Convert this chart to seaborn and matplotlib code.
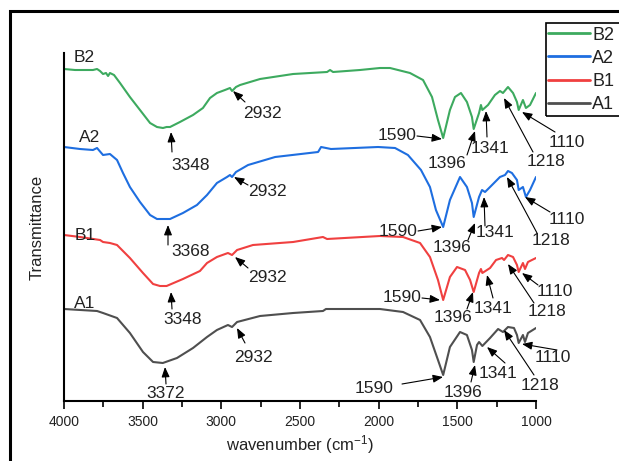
import matplotlib
matplotlib.use("Agg")
import matplotlib.pyplot as plt
import numpy as np
import pandas as pd
import seaborn as sns
from matplotlib.patches import Rectangle

# ---------------- data (stacked transmittance, a.u.) -------------
wn_B2 = [4000, 3930, 3867, 3816, 3790, 3771, 3752, 3733, 3720, 3708, 3682, 3644, 3581, 3517, 3453,
         3409, 3371, 3348, 3326, 3263, 3180, 3117, 3072, 3028, 2977, 2945, 2932, 2907, 2881, 2754,
         2544, 2328, 2309, 2290, 2119, 1992, 1928, 1801, 1718, 1661, 1623, 1590, 1547, 1515, 1477,
         1439, 1407, 1396, 1362, 1350, 1341, 1305, 1261, 1229, 1210, 1178, 1146, 1121, 1110, 1083,
         1064, 1038, 1000]
T_B2 = [333, 332, 332, 332, 333, 331, 328, 329, 326, 329, 327, 319, 305, 292, 279,
        275, 274, 275, 275, 280, 287, 294, 304, 309, 312, 314, 311, 315, 317, 323,
        328, 330, 332, 330, 332, 334, 334, 329, 322, 305, 282, 264, 292, 305, 309,
        300, 285, 273, 289, 297, 292, 297, 307, 311, 309, 315, 309, 300, 292, 302,
        294, 297, 309]

wn_A2 = [4000, 3898, 3816, 3790, 3752, 3708, 3663, 3625, 3581, 3517, 3453, 3409, 3368, 3326, 3244,
         3155, 3091, 3028, 2964, 2945, 2932, 2907, 2830, 2658, 2385, 2366, 2303, 2004, 1896, 1814,
         1731, 1674, 1636, 1590, 1547, 1483, 1439, 1407, 1396, 1362, 1343, 1324, 1292, 1229, 1197,
         1178, 1153, 1121, 1110, 1083, 1064, 1038, 1000]
T_A2 = [255, 253, 252, 254, 247, 248, 242, 229, 215, 200, 187, 183, 183, 183, 189,
        197, 207, 219, 225, 227, 225, 230, 237, 245, 250, 255, 253, 255, 254, 247,
        232, 215, 192, 175, 202, 225, 215, 199, 185, 205, 212, 210, 215, 225, 227,
        231, 229, 222, 212, 215, 205, 212, 225]

wn_B1 = [4000, 3898, 3771, 3752, 3708, 3663, 3581, 3498, 3434, 3390, 3348, 3244, 3136, 3091, 3028,
         2958, 2932, 2900, 2799, 2544, 2354, 2328, 1992, 1845, 1737, 1674, 1623, 1590, 1547, 1502,
         1451, 1419, 1396, 1362, 1350, 1341, 1292, 1254, 1216, 1203, 1178, 1146, 1121, 1110, 1083,
         1070, 1051, 1026, 1000]
T_B1 = [167, 165, 162, 160, 159, 157, 144, 129, 118, 116, 116, 123, 131, 139, 145,
        149, 147, 152, 157, 160, 165, 163, 166, 165, 159, 145, 122, 102, 125, 135,
        132, 122, 110, 129, 133, 129, 134, 142, 144, 142, 147, 145, 137, 130, 139,
        133, 140, 142, 144]

wn_A1 = [4000, 3790, 3752, 3663, 3581, 3498, 3434, 3372, 3282, 3180, 3091, 3028, 2958, 2932, 2900,
         2754, 2544, 2354, 2335, 1992, 1845, 1737, 1674, 1623, 1590, 1547, 1483, 1439, 1407, 1396,
         1375, 1362, 1341, 1292, 1241, 1210, 1178, 1140, 1121, 1110, 1083, 1070, 1051, 1000]
T_A1 = [93, 91, 89, 84, 69, 50, 40, 39, 44, 54, 65, 72, 77, 75, 80,
        86, 89, 91, 93, 93, 90, 82, 65, 42, 27, 55, 70, 67, 52, 40,
        57, 60, 56, 64, 73, 70, 75, 74, 67, 59, 67, 60, 69, 74]

samples = ["B2", "A2", "B1", "A1"]
x_ticks = [4000, 3500, 3000, 2500, 2000, 1500, 1000]

# peak labels per sample
peak_text = [
    ("B2", "3348"), ("B2", "2932"), ("B2", "1590"), ("B2", "1396"), ("B2", "1341"), ("B2", "1218"), ("B2", "1110"),
    ("A2", "3368"), ("A2", "2932"), ("A2", "1590"), ("A2", "1396"), ("A2", "1341"), ("A2", "1218"), ("A2", "1110"),
    ("B1", "3348"), ("B1", "2932"), ("B1", "1590"), ("B1", "1396"), ("B1", "1341"), ("B1", "1218"), ("B1", "1110"),
    ("A1", "3372"), ("A1", "2932"), ("A1", "1590"), ("A1", "1396"), ("A1", "1341"), ("A1", "1218"), ("A1", "1110"),
]
# layout only, figure pixels from top-left: (text centre, arrow tail, arrow tip)
peak_layout = [
    ((191, 165), (172, 152), (171, 132)), ((262, 113), (245, 102), (233, 91)),
    ((397, 136), (417, 136), (442, 139)), ((447, 163), (467, 155), (475, 131)),
    ((490, 148), (487, 137), (486, 111)), ((546, 162), (533, 152), (504, 98)),
    ((567, 142), (555, 132), (522, 112)),
    ((191, 252), (168, 245), (168, 225)), ((267, 192), (248, 185), (234, 177)),
    ((398, 231), (418, 231), (442, 227)), ((452, 247), (468, 240), (475, 223)),
    ((495, 232), (485, 226), (484, 197)), ((551, 240), (537, 233), (507, 177)),
    ((567, 219), (550, 212), (525, 197)),
    ((183, 319), (172, 309), (171, 292)), ((267, 277), (248, 268), (235, 257)),
    ((402, 297), (422, 298), (440, 300)), ((453, 317), (467, 309), (473, 292)),
    ((493, 308), (493, 298), (487, 275)), ((547, 312), (534, 303), (508, 264)),
    ((555, 292), (538, 285), (522, 273)),
    ((166, 393), (166, 384), (165, 367)), ((253, 357), (245, 343), (237, 328)),
    ((374, 388), (402, 384), (443, 377)), ((463, 392), (471, 382), (475, 365)),
    ((498, 373), (505, 363), (487, 347)), ((540, 385), (534, 375), (504, 330)),
    ((553, 358), (557, 350), (522, 344)),
]
name_layout = {"B2": (84, 57), "A2": (90, 137), "B1": (85, 235), "A1": (85, 303)}

# ---------------- style ----------------
sns.set_theme(style="ticks")
plt.rcParams["font.family"] = ["Liberation Sans", "DejaVu Sans"]
plt.rcParams["mathtext.fontset"] = "custom"
plt.rcParams["mathtext.rm"] = "Liberation Sans"
plt.rcParams["mathtext.it"] = "Liberation Sans:italic"

palette = {"B2": "#3daa5f", "A2": "#1e6ee0", "B1": "#f04040", "A1": "#4f4f4f"}
TXT = "#222222"

W, H = 619, 461
fig = plt.figure(figsize=(W / 100, H / 100), dpi=100)
fig.patch.set_facecolor("white")
ax = fig.add_axes([64 / W, 1 - 401 / H, (536 - 64) / W, (401 - 53) / H])
ax.set_facecolor("white")

frames = []
for name, wn, t in [("B2", wn_B2, T_B2), ("A2", wn_A2, T_A2), ("B1", wn_B1, T_B1), ("A1", wn_A1, T_A1)]:
    frames.append(pd.DataFrame({"wn": wn, "T": t, "sample": name}))
df = pd.concat(frames, ignore_index=True)

sns.lineplot(data=df, x="wn", y="T", hue="sample", hue_order=samples, palette=palette,
             estimator=None, sort=False, lw=1.5, ax=ax)

ax.set_xlim(4000, 1000)
ax.set_ylim(1, 349)
ax.set_xticks(x_ticks)
ax.set_xticks(np.arange(1000, 4001, 250), minor=True)
ax.set_yticks([])
ax.tick_params(axis="x", which="major", direction="out", length=6, width=1.2, color="black",
               labelsize=10, pad=4, labelcolor=TXT)
ax.tick_params(axis="x", which="minor", direction="out", length=4, width=1.2, color="black")
for s in ["top", "right"]:
    ax.spines[s].set_visible(False)
for s in ["left", "bottom"]:
    ax.spines[s].set_color("black")
    ax.spines[s].set_linewidth(1.5)
ax.set_xlabel("wavenumber (cm$^{-1}$)", fontsize=12, labelpad=3, color=TXT)
ax.set_ylabel("Transmittance", fontsize=12, labelpad=14, color=TXT)

handles, labels = ax.get_legend_handles_labels()
for h in handles:
    h.set_linewidth(2)
leg = ax.legend(handles, labels, loc="upper left", bbox_to_anchor=(548 / W, 1 - 26.5 / H),
                bbox_transform=fig.transFigure, frameon=False, fontsize=13, handlelength=2.35,
                handletextpad=0.1, labelspacing=0.35, borderpad=0, borderaxespad=0)
for t in leg.get_texts():
    t.set_color(TXT)
# legend frame (cropped at the right edge in the reference)
fig.add_artist(Rectangle((546 / W, 1 - 116 / H), 0.3, (116 - 23) / H, transform=fig.transFigure,
                         fill=False, lw=1.2, ec="black"))

# sample names
for name, (x, y) in name_layout.items():
    fig.text(x / W, 1 - y / H, name, ha="center", va="center", fontsize=12.5, color=TXT)

# peak annotations
for (name, txt), (tc, tail, tip) in zip(peak_text, peak_layout):
    fig.text(tc[0] / W, 1 - tc[1] / H, txt, ha="center", va="center", fontsize=12.5, color=TXT)
    ax.annotate("", xy=(tip[0], H - tip[1]), xycoords="figure pixels",
                xytext=(tail[0], H - tail[1]), textcoords="figure pixels",
                arrowprops=dict(arrowstyle="-|>,head_length=0.5,head_width=0.2", color="black",
                                lw=0.8, shrinkA=0, shrinkB=0), annotation_clip=False)

# outer frame (cropped on right/bottom in the reference)
fig.add_artist(Rectangle((10 / W, -0.2), 1.5, 1 - 11 / H + 0.2, transform=fig.transFigure,
                         fill=False, lw=2.2, ec="black"))

fig.savefig("out.png", dpi=100)
